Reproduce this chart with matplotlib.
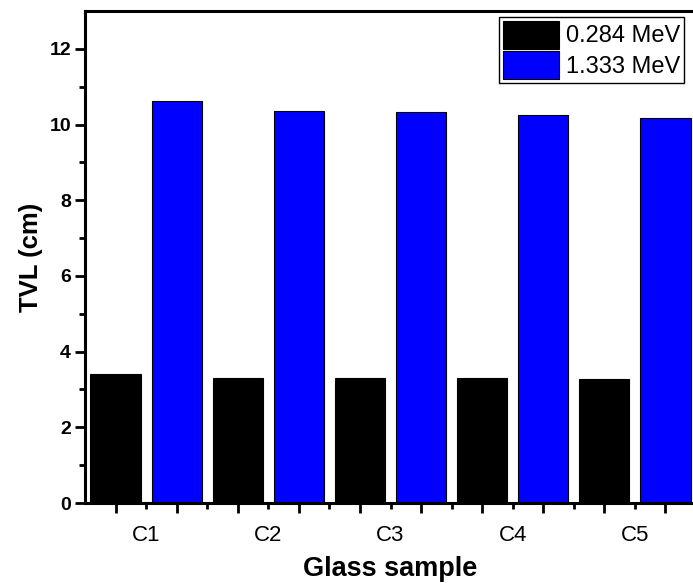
import numpy as np
import matplotlib
matplotlib.use("Agg")
import matplotlib.pyplot as plt

plt.rcParams['font.family'] = ['Liberation Sans', 'DejaVu Sans']

samples = ["C1", "C2", "C3", "C4", "C5"]
tvl_0284 = [3.40, 3.30, 3.30, 3.29, 3.27]
tvl_1333 = [10.63, 10.37, 10.33, 10.26, 10.18]
series_labels = ["0.284 MeV", "1.333 MeV"]

x = np.arange(1, len(samples) + 1)
w = 0.41

fig = plt.figure(figsize=(6.93, 5.83), dpi=100)
ax = fig.add_axes([85/693, 80/583, 611/693, 492/583])

ax.bar(x - 0.25, tvl_0284, w, color='black', edgecolor='black', linewidth=0.8, label=series_labels[0])
ax.bar(x + 0.25, tvl_1333, w, color='#0000FF', edgecolor='black', linewidth=0.8, label=series_labels[1])

ax.set_xlim(0.5, 5.5)
ax.set_ylim(0, 13)

# category ticks (short) plus half steps, long minor ticks in between
xt = np.arange(1, 5.1, 0.5)
ax.set_xticks(xt)
labels = []
for i in range(len(xt)):
    labels.append(samples[i // 2] if i % 2 == 0 else "")
ax.set_xticklabels(labels, fontsize=16)
ax.set_xticks(np.arange(0.75, 5.5, 0.5), minor=True)
ax.set_yticks(np.arange(0, 13, 2))
ax.set_yticks(np.arange(1, 13, 2), minor=True)
for t in ax.get_yticklabels():
    t.set_fontweight('bold')
    t.set_fontsize(14)

ax.tick_params(axis='x', which='major', length=4, width=2, pad=12)
ax.tick_params(axis='x', which='minor', length=7, width=2)
ax.tick_params(axis='y', which='major', length=7, width=2, pad=3)
ax.tick_params(axis='y', which='minor', length=4, width=2)

for s in ax.spines.values():
    s.set_linewidth(2.2)

ax.set_xlabel("Glass sample", fontsize=19.5, fontweight='bold', labelpad=7)
ax.set_ylabel("TVL (cm)", fontsize=18.5, fontweight='bold', labelpad=5)

leg = ax.legend(loc='upper left', bbox_to_anchor=(499/693, 1 - 17/583),
                bbox_transform=fig.transFigure, borderaxespad=0,
                fontsize=17, handlelength=2.4, handleheight=1.45,
                labelspacing=0.1, handletextpad=0.3, borderpad=0.15,
                fancybox=False, edgecolor='black', framealpha=1)
leg.get_frame().set_linewidth(1.0)

fig.savefig("out.png", dpi=100)
